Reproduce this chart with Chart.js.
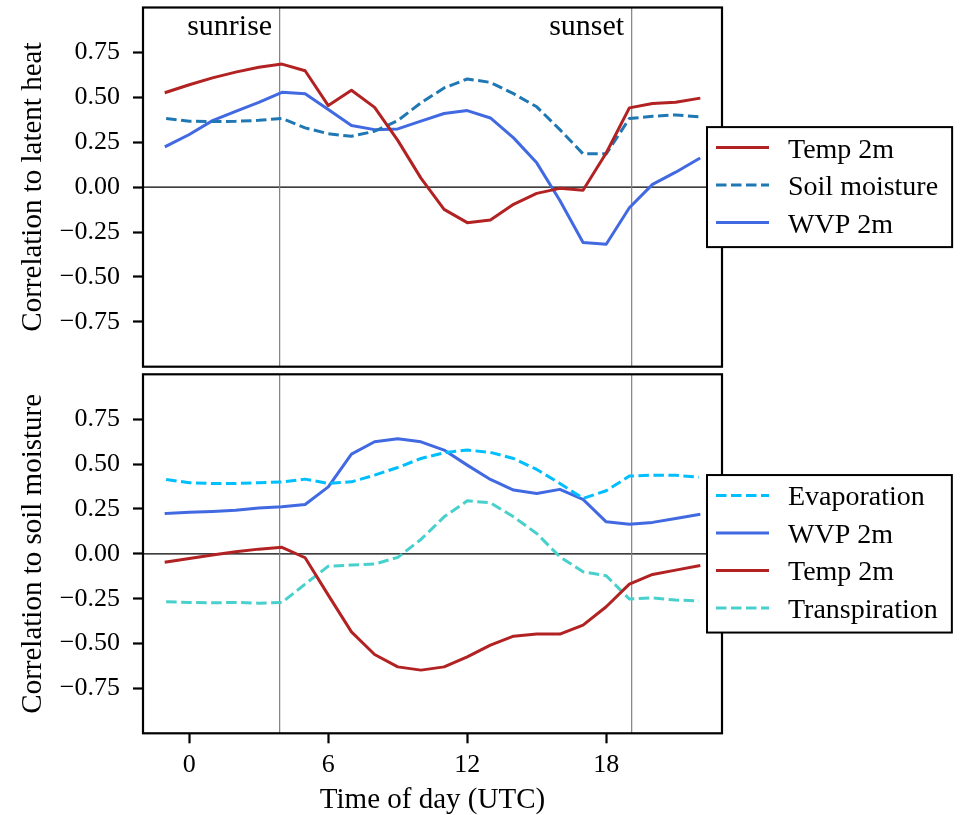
<!DOCTYPE html>
<html><head><meta charset="utf-8">
<script src="https://cdn.jsdelivr.net/npm/chart.js@4.4.0/dist/chart.umd.min.js"></script>
<style>
html,body{margin:0;padding:0;background:#fff;width:960px;height:815px;overflow:hidden}
canvas{position:absolute;left:0}
#c1{top:0}
#c2{top:370px}
</style></head><body>
<canvas id="c1" width="960" height="370"></canvas>
<canvas id="c2" width="960" height="448"></canvas>
<script>
// ---- data ----
const hours = [-1,0,1,2,3,4,5,6,7,8,9,10,11,12,13,14,15,16,17,18,19,20,21,22];

// top panel: correlation to latent heat
const latentTemp2m = [0.528,0.57,0.608,0.64,0.667,0.685,0.648,0.454,0.539,0.444,0.26,0.05,-0.124,-0.198,-0.183,-0.096,-0.035,-0.007,-0.018,0.19,0.441,0.465,0.472,0.494];
const latentSoilMoisture = [0.382,0.367,0.365,0.366,0.372,0.382,0.33,0.297,0.283,0.311,0.37,0.469,0.552,0.602,0.583,0.52,0.447,0.32,0.185,0.185,0.382,0.394,0.402,0.391];
const latentWVP2m = [0.228,0.293,0.37,0.422,0.472,0.528,0.52,0.432,0.343,0.32,0.324,0.367,0.41,0.426,0.385,0.274,0.135,-0.075,-0.309,-0.318,-0.115,0.015,0.083,0.158];

// bottom panel: correlation to soil moisture
const soilEvaporation = [0.414,0.396,0.392,0.392,0.396,0.4,0.416,0.392,0.401,0.438,0.481,0.531,0.563,0.578,0.565,0.531,0.47,0.392,0.309,0.351,0.433,0.438,0.438,0.426];
const soilWVP2m = [0.225,0.231,0.236,0.243,0.255,0.262,0.275,0.373,0.555,0.624,0.641,0.624,0.578,0.494,0.414,0.355,0.336,0.359,0.303,0.178,0.164,0.175,0.197,0.219];
const soilTemp2m = [-0.046,-0.026,-0.007,0.011,0.026,0.036,-0.022,-0.23,-0.435,-0.561,-0.63,-0.648,-0.63,-0.574,-0.509,-0.459,-0.447,-0.447,-0.397,-0.295,-0.169,-0.115,-0.091,-0.067];
const soilTranspiration = [-0.267,-0.271,-0.273,-0.271,-0.275,-0.271,-0.169,-0.069,-0.063,-0.057,-0.02,0.08,0.206,0.295,0.284,0.206,0.113,-0.017,-0.1,-0.122,-0.252,-0.245,-0.258,-0.262];

const xTicks = [0,6,12,18];
const yTicks = [-0.75,-0.5,-0.25,0,0.25,0.5,0.75];
const eventHours = [3.9, 19.1];
const eventLabels = ['sunrise','sunset'];

// ---- styling ----
const FONT = "'Liberation Serif','DejaVu Serif',serif";
const C_TEMP = '#b22222', C_SOIL = '#1f77b4', C_WVP = '#4169e1', C_EVAP = '#00bfff', C_TRANSP = '#48d1cc';
const DASH = [10.5, 4.5];
const LW = 3;

const pts = arr => hours.map((h,i) => ({x:h, y:arr[i]}));
const fmt = v => v.toFixed(2).replace('-', '\u2212');

const decor = {
  id: 'decor',
  beforeDatasetsDraw(chart, args, o) {
    const {ctx, chartArea: ca, scales: {x, y}} = chart;
    ctx.save();
    ctx.beginPath(); ctx.rect(ca.left, ca.top, ca.right-ca.left, ca.bottom-ca.top); ctx.clip();
    const y0 = y.getPixelForValue(0);
    ctx.strokeStyle = '#000'; ctx.lineWidth = 1.3;
    ctx.beginPath(); ctx.moveTo(ca.left, y0); ctx.lineTo(ca.right, y0); ctx.stroke();
    ctx.strokeStyle = '#808080'; ctx.lineWidth = 1.2;
    eventHours.forEach(h => {
      const px = x.getPixelForValue(h);
      ctx.beginPath(); ctx.moveTo(px, ca.top); ctx.lineTo(px, ca.bottom); ctx.stroke();
    });
    ctx.restore();
  },
  afterDraw(chart, args, o) {
    const {ctx, chartArea: ca, scales: {x}} = chart;
    ctx.save();
    ctx.strokeStyle = '#000'; ctx.lineWidth = 2.2;
    ctx.strokeRect(ca.left, ca.top, ca.right-ca.left, ca.bottom-ca.top);
    if (o.annotate) {
      ctx.fillStyle = '#000'; ctx.font = '30px ' + FONT;
      ctx.textAlign = 'right'; ctx.textBaseline = 'alphabetic';
      eventHours.forEach((h,i) => {
        ctx.fillText(eventLabels[i], x.getPixelForValue(h) - 7.5, ca.top + 27);
      });
    }
    const ds = chart.data.datasets;
    ctx.font = '28px ' + FONT;
    const maxW = Math.max(...ds.map(d => ctx.measureText(d.label).width));
    const rowH = 37.5;
    const h = ds.length * rowH + 7.5;
    const left = ca.right - 15;
    const top = (ca.top + ca.bottom)/2 - h/2;
    const w = 81 + maxW + 14;
    ctx.fillStyle = '#fff'; ctx.fillRect(left, top, w, h);
    ctx.strokeStyle = '#000'; ctx.lineWidth = 2; ctx.strokeRect(left, top, w, h);
    ds.forEach((d,i) => {
      const yy = top + 20.4 + i*rowH;
      ctx.beginPath(); ctx.setLineDash(d.borderDash || []);
      ctx.strokeStyle = d.borderColor; ctx.lineWidth = d.borderWidth;
      ctx.moveTo(left + 9, yy); ctx.lineTo(left + 62, yy); ctx.stroke();
      ctx.setLineDash([]);
      ctx.fillStyle = '#000'; ctx.textAlign = 'left'; ctx.textBaseline = 'alphabetic';
      ctx.fillText(d.label, left + 81, yy + 10);
    });
    ctx.restore();
  }
};

function ds(label, arr, color, dashed) {
  return {label, data: pts(arr), borderColor: color, backgroundColor: color,
    borderWidth: LW, borderDash: dashed ? DASH : [], pointRadius: 0, tension: 0,
    fill: false, borderJoinStyle: 'round', borderCapStyle: dashed ? 'butt' : 'square'};
}

function yScale(title) {
  return {
    type: 'linear', min: -1, max: 1,
    afterBuildTicks(s) { s.ticks = yTicks.map(v => ({value: v})); },
    afterFit(s) { s.width = 143; s.paddingTop = 0; s.paddingBottom = 0; },
    ticks: {font: {family: FONT, size: 26}, color: '#000', padding: 13, callback: v => fmt(v)},
    grid: {drawOnChartArea: false, drawTicks: true, tickLength: 10, tickWidth: 2.2, tickColor: '#000', color: '#000'},
    border: {display: false},
    title: {display: true, text: title, color: '#000', font: {family: FONT, size: 29}, padding: {top: 16, bottom: 0}}
  };
}

function makeChart(id, datasets, opts) {
  return new Chart(document.getElementById(id), {
    type: 'line',
    data: {datasets},
    options: {
      responsive: false, animation: false, devicePixelRatio: 1,
      events: [],
      layout: {padding: opts.padding},
      plugins: {legend: {display: false}, tooltip: {enabled: false}, decor: {annotate: opts.annotate}},
      scales: {
        x: {
          type: 'linear', min: -2, max: 23, display: opts.showX,
          afterBuildTicks(s) { s.ticks = xTicks.map(v => ({value: v})); },
          afterFit(s) { s.height = opts.xHeight || s.height; s.paddingLeft = 0; s.paddingRight = 0; },
          ticks: {font: {family: FONT, size: 26}, color: '#000', padding: 6, maxRotation: 0},
          grid: {drawOnChartArea: false, drawTicks: true, tickLength: 10, tickWidth: 2.2, tickColor: '#000', color: '#000'},
          border: {display: false},
          title: {display: true, text: 'Time of day (UTC)', color: '#000', font: {family: FONT, size: 29}, padding: {top: 0, bottom: 0}}
        },
        y: yScale(opts.yTitle)
      }
    },
    plugins: [decor]
  });
}

makeChart('c1', [
  ds('Temp 2m', latentTemp2m, C_TEMP, false),
  ds('Soil moisture', latentSoilMoisture, C_SOIL, true),
  ds('WVP 2m', latentWVP2m, C_WVP, false)
], {padding: {top: 7.5, right: 238, bottom: 3.3, left: 0}, showX: false, annotate: true, yTitle: 'Correlation to latent heat'});

makeChart('c2', [
  ds('Evaporation', soilEvaporation, C_EVAP, true),
  ds('WVP 2m', soilWVP2m, C_WVP, false),
  ds('Temp 2m', soilTemp2m, C_TEMP, false),
  ds('Transpiration', soilTranspiration, C_TRANSP, true)
], {padding: {top: 4.3, right: 238, bottom: 0, left: 0}, showX: true, xHeight: 84.7, annotate: false, yTitle: 'Correlation to soil moisture'});
</script>
</body></html>
